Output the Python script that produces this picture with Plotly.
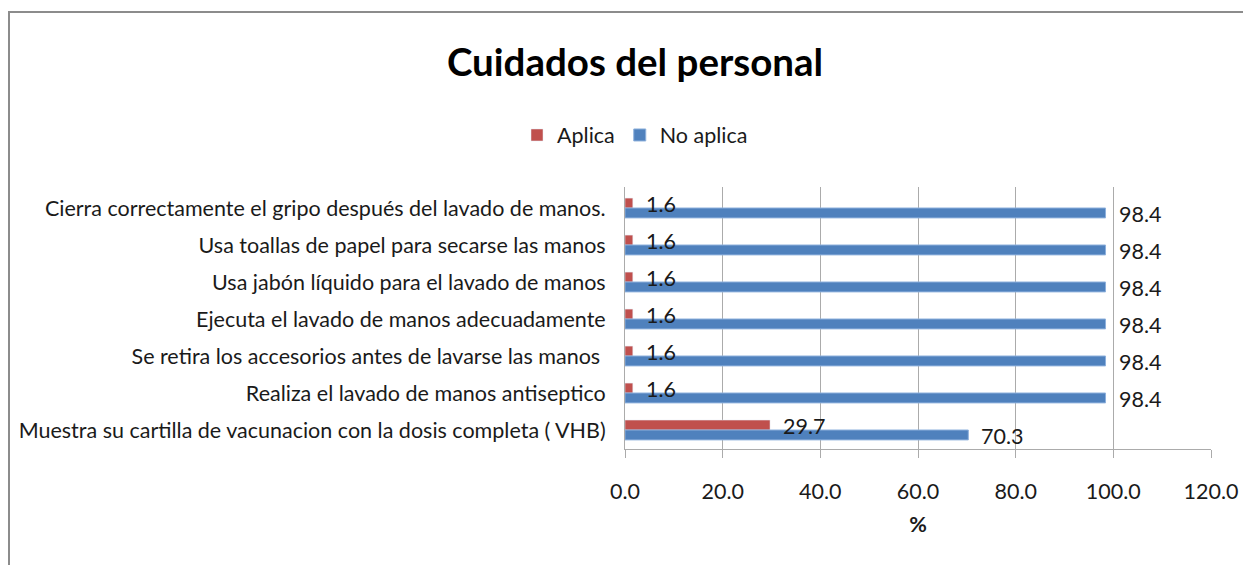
import plotly.graph_objects as go

categories = [
    "Cierra correctamente el gripo después del lavado de manos.",
    "Usa toallas de papel para secarse las manos",
    "Usa jabón líquido para el lavado de manos",
    "Ejecuta el lavado de manos adecuadamente",
    "Se retira los accesorios antes de lavarse las manos ",
    "Realiza el lavado de manos antiseptico",
    "Muestra su cartilla de vacunacion con la dosis completa ( VHB)",
]
aplica = [1.6, 1.6, 1.6, 1.6, 1.6, 1.6, 29.7]
no_aplica = [98.4, 98.4, 98.4, 98.4, 98.4, 98.4, 70.3]
x_ticks = [0, 20, 40, 60, 80, 100, 120]

FONT = "Lato, Roboto, sans-serif"
RED = "#C0504D"
BLUE = "#4F81BD"
FS = 21.5

fig = go.Figure()
fig.add_trace(go.Bar(
    y=categories, x=aplica, name="Aplica", orientation="h",
    marker=dict(color=RED),
))
fig.add_trace(go.Bar(
    y=categories, x=no_aplica, name="No aplica", orientation="h",
    marker=dict(color=BLUE, line=dict(color="#8DB0DC", width=1)),
))

# data labels drawn above all bars (as in the reference), anchored to data coordinates
for series, shift in ((aplica, 4), (no_aplica, -6)):
    for cat, v in zip(categories, series):
        fig.add_annotation(x=v, y=cat, xref="x", yref="y", text=f"{v:.1f}",
                           showarrow=False, xanchor="left", yanchor="middle",
                           xshift=11, yshift=shift,
                           font=dict(family=FONT, size=FS, color="#1a1a1a"))

# page body adds an 8px offset; figure coordinates are shifted accordingly
OFF = 8
W, H = 1251 - OFF, 565 - OFF
L, T = 625 - OFF, 187 - OFF
R = W - (1211 - OFF)
B = H - (449 - OFF)
pw = W - L - R
ph = H - T - B

def px_x(x):
    return (x - L) / pw

def px_y(y):
    return (H - B - y) / ph

fig.update_layout(
    width=W, height=H,
    margin=dict(l=L, r=R, t=T, b=B, autoexpand=False),
    paper_bgcolor="white", plot_bgcolor="white",
    barmode="group", bargap=0.465, bargroupgap=0,
    font=dict(family=FONT, size=FS, color="#1a1a1a"),
    title=dict(text="<b>Cuidados del personal</b>", x=(635 - OFF) / W, xanchor="center",
               y=1 - (63 - OFF) / H, yanchor="middle",
               font=dict(family=FONT, size=38.5, color="#000")),
    showlegend=True,
    legend=dict(orientation="h", xref="container", x=(635 - OFF) / W, xanchor="center",
                yref="container", y=1 - (135 - OFF) / H, yanchor="middle",
                font=dict(family=FONT, size=FS), tracegroupgap=0, itemwidth=30,
                bgcolor="rgba(0,0,0,0)"),
    xaxis=dict(range=[0, 120], tickvals=x_ticks, ticktext=[f"{v:.1f}" for v in x_ticks],
               showgrid=True, gridcolor="#ABABAB", gridwidth=1,
               showline=True, linecolor="#ABABAB", linewidth=1,
               ticks="outside", ticklen=8, tickcolor="#ABABAB",
               ticklabelstandoff=15, zeroline=False, automargin=False,
               tickfont=dict(family=FONT, size=FS),
               title=dict(text="<b>%</b>", font=dict(family=FONT, size=FS), standoff=14)),
    yaxis=dict(autorange="reversed", showgrid=False, showline=True, automargin=False,
               linecolor="#ABABAB", linewidth=1, ticks="", ticklabelstandoff=14,
               tickfont=dict(family=FONT, size=FS)),
)

fig.add_shape(type="rect", xref="paper", yref="paper",
              x0=px_x(1), x1=px_x(W + 10), y0=px_y(H + 10), y1=px_y(4),
              line=dict(color="#8C8C8C", width=2), fillcolor="rgba(0,0,0,0)", layer="below")

fig.write_html("out.html")
